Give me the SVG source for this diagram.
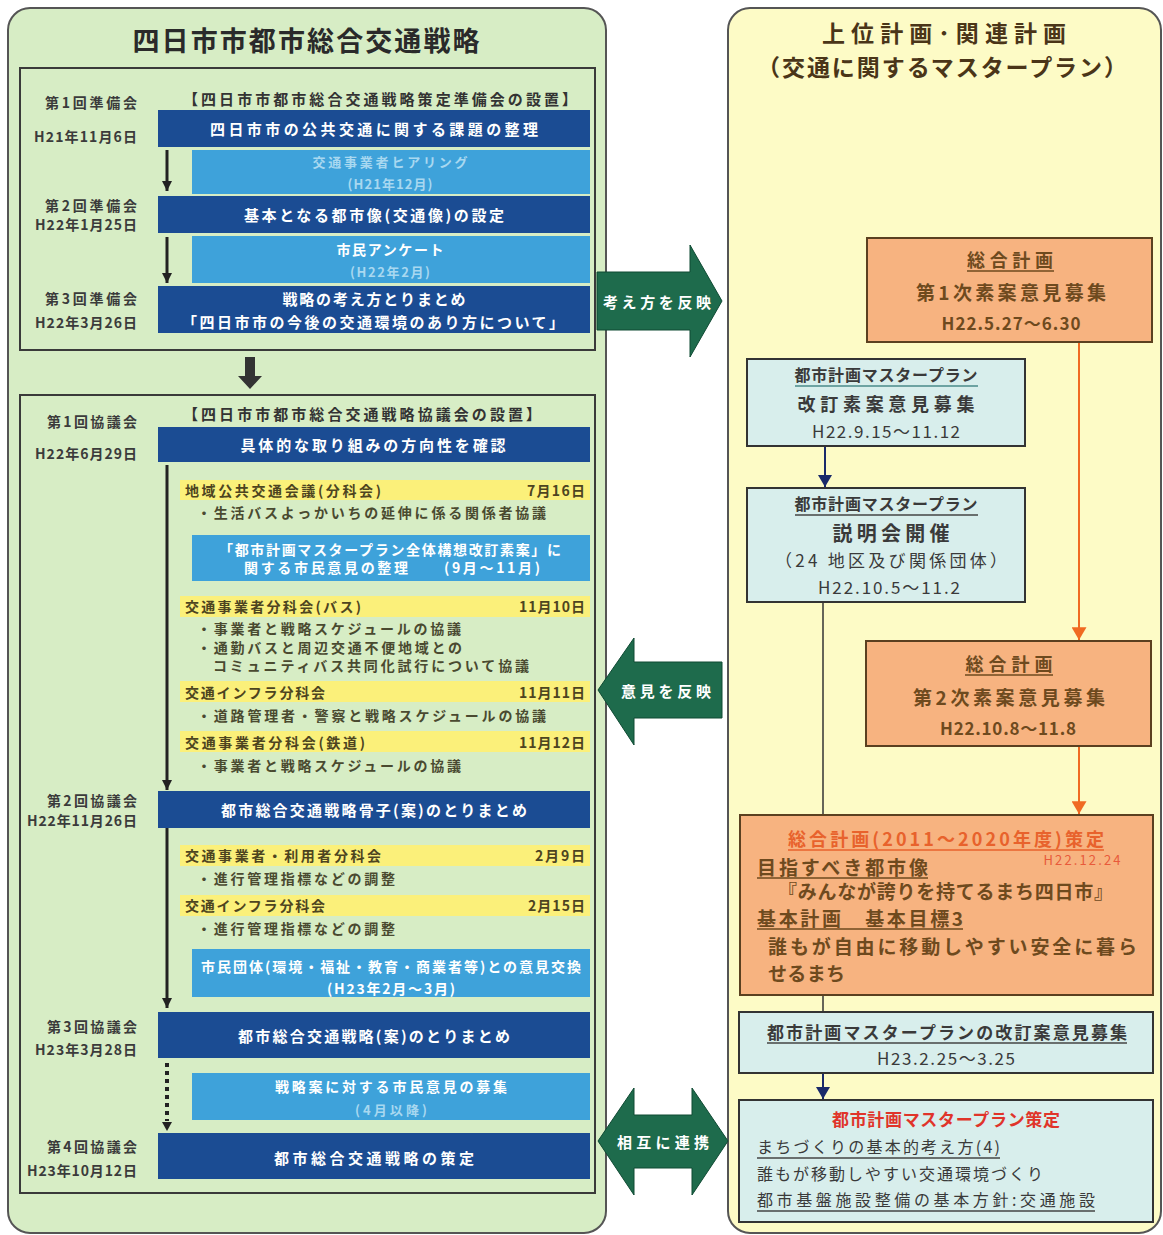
<svg xmlns="http://www.w3.org/2000/svg" width="1163" height="1235" viewBox="0 0 1163 1235">
<defs>
<style>
text{font-family:"Noto Sans CJK JP","Noto Sans",sans-serif;font-weight:bold;dominant-baseline:central}
.lab{fill:#3b3b3b;font-size:14px;text-anchor:end}
.hdr{fill:#333;font-size:15px;text-anchor:middle}
.bar{fill:#1b4c93}
.bt{fill:#fff;font-size:15px;text-anchor:middle}
.lb{fill:#3ea2da}
.fd{fill:#a8d8f0;font-size:13px;text-anchor:middle}
.wt{fill:#fff;font-size:14px;text-anchor:middle}
.yl{fill:#fbf07a}
.yt{fill:#4d4420;font-size:14px}
.yd{fill:#4d4420;font-size:14px;text-anchor:end}
.bul{fill:#4a4a30;font-size:14px}
.or{fill:#f7b380;stroke:#5b4020;stroke-width:2}
.ot{fill:#6e4a1e;font-size:18px;text-anchor:middle}
.ol{fill:#6e4a1e;font-size:19px}
.cy{fill:#d8eeec;stroke:#333;stroke-width:2}
.ct{fill:#3a3a3a;font-size:17px;text-anchor:middle}
.cl{fill:#3a3a3a;font-size:16px;font-weight:normal}
.ul{stroke-width:1.5}
.ga{fill:#1e6b4c;stroke:#0f4a33;stroke-width:1}
.gt{fill:#fff;font-size:15px;text-anchor:middle}
.rt{font-size:23px;fill:#4a3518;text-anchor:middle}
</style>
<marker id="mk" viewBox="0 0 10 10" refX="10" refY="5" markerWidth="10" markerHeight="10" markerUnits="userSpaceOnUse" orient="auto"><path d="M0,0 L10,5 L0,10 z" fill="#222"/></marker>
<marker id="mo" viewBox="0 0 12 14" refX="12" refY="7" markerWidth="13" markerHeight="15" markerUnits="userSpaceOnUse" orient="auto"><path d="M0,0 L12,7 L0,14 z" fill="#f06a22"/></marker>
<marker id="mn" viewBox="0 0 12 14" refX="12" refY="7" markerWidth="12" markerHeight="14" markerUnits="userSpaceOnUse" orient="auto"><path d="M0,0 L12,7 L0,14 z" fill="#1a2a6a"/></marker>
</defs>

<!-- Left panel -->
<g id="left-panel">
<rect x="8" y="8" width="598" height="1225" rx="22" fill="#d7edc5" stroke="#555" stroke-width="2"/>
<text x="306" y="39" style="font-size:27px;fill:#2a2a2a;text-anchor:middle" textLength="347">四日市市都市総合交通戦略</text>
<rect x="20" y="68" width="575" height="282" fill="none" stroke="#3a3a3a" stroke-width="2"/>
<rect x="20" y="395" width="575" height="798" fill="none" stroke="#3a3a3a" stroke-width="2"/>
</g>

<g id="prep1">
<text class="lab" x="137" y="102" textLength="92">第1回準備会</text>
<text class="lab" x="137" y="136" textLength="103">H21年11月6日</text>
<text class="hdr" x="380" y="98" textLength="394">【四日市市都市総合交通戦略策定準備会の設置】</text>
<rect class="bar" x="158" y="110" width="432" height="37"/>
<text class="bt" x="374" y="128" textLength="328">四日市市の公共交通に関する課題の整理</text>
</g>
<g id="hearing">
<rect class="lb" x="192" y="150" width="398" height="44"/>
<text class="fd" x="390" y="161" textLength="155">交通事業者ヒアリング</text>
<text class="fd" x="390" y="183" textLength="85">(H21年12月)</text>
</g>
<g id="prep2">
<text class="lab" x="137" y="205" textLength="92">第2回準備会</text>
<text class="lab" x="137" y="224" textLength="102">H22年1月25日</text>
<rect class="bar" x="158" y="196" width="432" height="37"/>
<text class="bt" x="374" y="214" textLength="260">基本となる都市像(交通像)の設定</text>
</g>
<g id="survey">
<rect class="lb" x="192" y="236" width="398" height="47"/>
<text class="wt" x="390" y="249" textLength="107">市民アンケート</text>
<text class="fd" x="390" y="271" textLength="80">(H22年2月)</text>
</g>
<g id="prep3">
<text class="lab" x="137" y="298" textLength="92">第3回準備会</text>
<text class="lab" x="137" y="322" textLength="102">H22年3月26日</text>
<rect class="bar" x="158" y="286" width="432" height="47"/>
<text class="bt" x="374" y="298" textLength="183">戦略の考え方とりまとめ</text>
<text class="bt" x="373" y="321" textLength="382">「四日市市の今後の交通環境のあり方について」</text>
</g>

<g id="kyo1">
<text class="lab" x="137" y="421" textLength="90">第1回協議会</text>
<text class="lab" x="137" y="453" textLength="102">H22年6月29日</text>
<text class="hdr" x="362" y="413" textLength="358">【四日市市都市総合交通戦略協議会の設置】</text>
<rect class="bar" x="158" y="427" width="432" height="35"/>
<text class="bt" x="373" y="444" textLength="265">具体的な取り組みの方向性を確認</text>
</g>
<g id="bunka1">
<rect class="yl" x="180" y="480" width="410" height="20"/>
<text class="yt" x="185" y="490" textLength="196">地域公共交通会議(分科会)</text>
<text class="yd" x="585" y="490" textLength="58">7月16日</text>
<text class="bul" x="197" y="512" textLength="349">・生活バスよっかいちの延伸に係る関係者協議</text>
</g>
<g id="opinion1">
<rect class="lb" x="192" y="535" width="398" height="46"/>
<text class="wt" x="390" y="549" textLength="342">「都市計画マスタープラン全体構想改訂素案」に</text>
<text class="wt" x="392" y="567" textLength="296">関する市民意見の整理　　(9月～11月)</text>
</g>
<g id="bunka2">
<rect class="yl" x="180" y="596" width="410" height="21"/>
<text class="yt" x="185" y="606" textLength="176">交通事業者分科会(バス)</text>
<text class="yd" x="585" y="606" textLength="66">11月10日</text>
<text class="bul" x="197" y="628" textLength="264">・事業者と戦略スケジュールの協議</text>
<text class="bul" x="197" y="647" textLength="265">・通勤バスと周辺交通不便地域との</text>
<text class="bul" x="213" y="665" textLength="316">コミュニティバス共同化試行について協議</text>
</g>
<g id="bunka3">
<rect class="yl" x="180" y="681" width="410" height="21"/>
<text class="yt" x="185" y="692" textLength="140">交通インフラ分科会</text>
<text class="yd" x="585" y="692" textLength="66">11月11日</text>
<text class="bul" x="197" y="715" textLength="349">・道路管理者・警察と戦略スケジュールの協議</text>
</g>
<g id="bunka4">
<rect class="yl" x="180" y="731" width="410" height="21"/>
<text class="yt" x="185" y="742" textLength="180">交通事業者分科会(鉄道)</text>
<text class="yd" x="585" y="742" textLength="66">11月12日</text>
<text class="bul" x="197" y="765" textLength="264">・事業者と戦略スケジュールの協議</text>
</g>
<g id="kyo2">
<text class="lab" x="137" y="800" textLength="90">第2回協議会</text>
<text class="lab" x="137" y="820" textLength="110">H22年11月26日</text>
<rect class="bar" x="158" y="791" width="432" height="37"/>
<text class="bt" x="374" y="809" textLength="306">都市総合交通戦略骨子(案)のとりまとめ</text>
</g>
<g id="bunka5">
<rect class="yl" x="180" y="845" width="410" height="21"/>
<text class="yt" x="185" y="855" textLength="196">交通事業者・利用者分科会</text>
<text class="yd" x="585" y="855" textLength="50">2月9日</text>
<text class="bul" x="197" y="878" textLength="198">・進行管理指標などの調整</text>
</g>
<g id="bunka6">
<rect class="yl" x="180" y="895" width="410" height="21"/>
<text class="yt" x="185" y="905" textLength="140">交通インフラ分科会</text>
<text class="yd" x="585" y="905" textLength="57">2月15日</text>
<text class="bul" x="197" y="928" textLength="198">・進行管理指標などの調整</text>
</g>
<g id="opinion2">
<rect class="lb" x="192" y="949" width="398" height="48"/>
<text class="wt" x="391" y="966" textLength="380">市民団体(環境・福祉・教育・商業者等)との意見交換</text>
<text class="wt" x="391" y="988" textLength="128">(H23年2月～3月)</text>
</g>
<g id="kyo3">
<text class="lab" x="137" y="1026" textLength="90">第3回協議会</text>
<text class="lab" x="137" y="1049" textLength="102">H23年3月28日</text>
<rect class="bar" x="158" y="1012" width="432" height="46"/>
<text class="bt" x="374" y="1035" textLength="272">都市総合交通戦略(案)のとりまとめ</text>
</g>
<g id="pubcom">
<rect class="lb" x="192" y="1073" width="398" height="47"/>
<text class="wt" x="391" y="1086" textLength="232">戦略案に対する市民意見の募集</text>
<text class="fd" x="391" y="1109" textLength="72">(4月以降)</text>
</g>
<g id="kyo4">
<text class="lab" x="137" y="1146" textLength="90">第4回協議会</text>
<text class="lab" x="137" y="1170" textLength="110">H23年10月12日</text>
<rect class="bar" x="158" y="1133" width="432" height="46"/>
<text class="bt" x="374" y="1157" textLength="200">都市総合交通戦略の策定</text>
</g>

<!-- Right panel -->
<g id="right-panel">
<rect x="728" y="8" width="433" height="1225" rx="22" fill="#fdfbc6" stroke="#555" stroke-width="2"/>
<text class="rt" x="944" y="32" textLength="244">上位計画･関連計画</text>
<text class="rt" x="942" y="66" textLength="370">（交通に関するマスタープラン）</text>
</g>

<!-- connectors -->
<g id="connectors">
<line x1="167" y1="150" x2="167" y2="191" stroke="#222" stroke-width="3" marker-end="url(#mk)"/>
<line x1="167" y1="237" x2="167" y2="283" stroke="#222" stroke-width="3" marker-end="url(#mk)"/>
<polygon points="245,357 255,357 255,376 262,376 250,389 238,376 245,376" fill="#333"/>
<line x1="167" y1="465" x2="167" y2="790" stroke="#222" stroke-width="3" marker-end="url(#mk)"/>
<line x1="167" y1="828" x2="167" y2="1008" stroke="#222" stroke-width="3" marker-end="url(#mk)"/>
<line x1="167" y1="1063" x2="167" y2="1121" stroke="#222" stroke-width="4" stroke-dasharray="4 4"/>
<polygon points="162,1122 172,1122 167,1131" fill="#222"/>
<line x1="1079" y1="342" x2="1079" y2="640" stroke="#f06a22" stroke-width="2" marker-end="url(#mo)"/>
<line x1="1079" y1="746" x2="1079" y2="814" stroke="#f06a22" stroke-width="2" marker-end="url(#mo)"/>
<line x1="825" y1="446" x2="825" y2="487" stroke="#1a2a6a" stroke-width="2" marker-end="url(#mn)"/>
<line x1="823" y1="602" x2="823" y2="1012" stroke="#333" stroke-width="1.5"/>
<line x1="823" y1="1073" x2="823" y2="1099" stroke="#1a2a6a" stroke-width="2" marker-end="url(#mn)"/>
<polygon class="ga" points="597,272 690,272 690,245 722,301 690,357 690,330 597,330"/>
<text class="gt" x="657" y="301" textLength="108">考え方を反映</text>
<polygon class="ga" points="598,690 634,638 634,662 722,662 722,718 634,718 634,745"/>
<text class="gt" x="666" y="690" textLength="90">意見を反映</text>
<polygon class="ga" points="598,1141 634,1088 634,1115 692,1115 692,1088 728,1141 692,1195 692,1168 634,1168 634,1195"/>
<text class="gt" x="663" y="1141" textLength="92">相互に連携</text>
</g>

<g id="sogo1">
<rect class="or" x="867" y="238" width="285" height="104"/>
<text class="ot" x="1010" y="259" textLength="86">総合計画</text>
<line class="ul" x1="967" y1="271" x2="1054" y2="271" stroke="#6e4a1e"/>
<text class="ot" x="1011" y="291" textLength="190" style="font-size:19px">第1次素案意見募集</text>
<text class="ot" x="1011" y="322" textLength="139" style="font-size:17px">H22.5.27～6.30</text>
</g>
<g id="tmp1">
<rect class="cy" x="747" y="359" width="278" height="87"/>
<text class="ct" x="886" y="374" textLength="183" style="font-size:16px">都市計画マスタープラン</text>
<line class="ul" x1="795" y1="386" x2="978" y2="386" stroke="#4a8a8a"/>
<text class="ct" x="886" y="403" textLength="177" style="font-size:18px">改訂素案意見募集</text>
<text class="ct" x="886" y="430" textLength="148" style="font-weight:normal">H22.9.15～11.12</text>
</g>
<g id="tmp2">
<rect class="cy" x="747" y="488" width="278" height="114"/>
<text class="ct" x="886" y="503" textLength="183" style="font-size:16px">都市計画マスタープラン</text>
<line class="ul" x1="795" y1="515" x2="978" y2="515" stroke="#444"/>
<text class="ct" x="891" y="532" textLength="117" style="font-size:20px">説明会開催</text>
<text class="ct" x="891" y="559" textLength="232" style="font-weight:normal">（24 地区及び関係団体）</text>
<text class="ct" x="889" y="586" textLength="142" style="font-weight:normal">H22.10.5～11.2</text>
</g>
<g id="sogo2">
<rect class="or" x="866" y="641" width="285" height="105"/>
<text class="ot" x="1009" y="663" textLength="87">総合計画</text>
<line class="ul" x1="965" y1="675" x2="1053" y2="675" stroke="#6e4a1e"/>
<text class="ot" x="1009" y="696" textLength="192" style="font-size:19px">第2次素案意見募集</text>
<text class="ot" x="1008" y="727" textLength="136" style="font-size:17px">H22.10.8～11.8</text>
</g>
<g id="sogo3">
<rect class="or" x="740" y="815" width="413" height="180"/>
<text x="946" y="838" textLength="316" style="font-size:18px;fill:#e8622c;text-anchor:middle">総合計画(2011～2020年度)策定</text>
<line class="ul" x1="788" y1="850" x2="1104" y2="850" stroke="#e8622c"/>
<text x="1082" y="859" textLength="77" style="font-size:13px;font-weight:normal;fill:#e85a3a;text-anchor:middle">H22.12.24</text>
<text class="ol" x="757" y="866" textLength="171">目指すべき都市像</text>
<line class="ul" x1="757" y1="878" x2="928" y2="878" stroke="#6e4a1e"/>
<text class="ol" x="778" y="890" textLength="335">『みんなが誇りを持てるまち四日市』</text>
<text class="ol" x="757" y="917" textLength="206">基本計画　基本目標3</text>
<line class="ul" x1="757" y1="929" x2="963" y2="929" stroke="#6e4a1e"/>
<text class="ol" x="768" y="945" textLength="369">誰もが自由に移動しやすい安全に暮ら</text>
<text class="ol" x="768" y="972" textLength="77">せるまち</text>
</g>
<g id="tmp3">
<rect class="cy" x="739" y="1012" width="414" height="61"/>
<text class="ct" x="947" y="1031" textLength="360">都市計画マスタープランの改訂案意見募集</text>
<line class="ul" x1="767" y1="1043" x2="1127" y2="1043" stroke="#444"/>
<text class="ct" x="946" y="1057" textLength="138" style="font-weight:normal">H23.2.25～3.25</text>
</g>
<g id="tmp4">
<rect class="cy" x="739" y="1100" width="414" height="122"/>
<text x="946" y="1118" textLength="228" style="font-size:17px;fill:#e0342a;text-anchor:middle">都市計画マスタープラン策定</text>
<text class="cl" x="757" y="1146" textLength="243">まちづくりの基本的考え方(4)</text>
<line class="ul" x1="757" y1="1158" x2="1000" y2="1158" stroke="#444"/>
<text class="cl" x="757" y="1173" textLength="286">誰もが移動しやすい交通環境づくり</text>
<text class="cl" x="757" y="1199" textLength="338">都市基盤施設整備の基本方針:交通施設</text>
<line class="ul" x1="757" y1="1211" x2="1095" y2="1211" stroke="#444"/>
</g>
</svg>
